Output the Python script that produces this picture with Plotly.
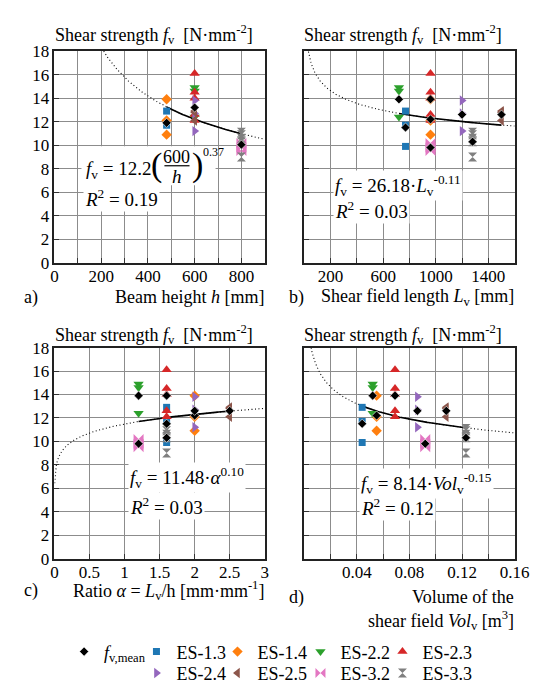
import numpy as np
import plotly.graph_objects as go

W, H = 539, 685
FONT = "Liberation Serif, Times New Roman, serif"

# ---------------- data ----------------
series = ["ES-1.3", "ES-1.4", "ES-2.2", "ES-2.3", "ES-2.4", "ES-2.5", "ES-3.2", "ES-3.3"]
colors = ["#1f77b4", "#ff7f0e", "#2ca02c", "#d62728", "#9467bd", "#8c564b", "#e377c2", "#7f7f7f"]
symbols = ["square", "diamond", "triangle-down", "triangle-up", "triangle-right",
           "triangle-left", "bowtie", "hourglass"]
msizes = [7, 8, 9, 9, 9, 9, 10, 9]

beam_height = [480, 480, 600, 600, 600, 600, 800, 800]            # h [mm]
shear_length = [770, 960, 720, 960, 1200, 1500, 960, 1280]        # Lv [mm]
ratio_alpha = [1.6, 2.0, 1.2, 1.6, 2.0, 2.5, 1.2, 1.6]             # alpha
shear_volume = [0.044, 0.055, 0.052, 0.069, 0.086, 0.108, 0.092, 0.123]  # Vol [m3]

es13 = [12.9, 11.7, 9.9]
es14 = [13.9, 12.1, 10.9]
es22 = [14.9, 14.6, 12.4]
es23 = [16.1, 14.5, 14.0, 12.6, 12.1]
es24 = [13.8, 12.7, 11.2]
es25 = [12.9, 12.8, 12.1]
es32 = [10.2, 9.8, 9.5]
es33 = [11.1, 10.9, 10.6, 10.3, 9.0]
strengths = [es13, es14, es22, es23, es24, es25, es32, es33]
# in panel a) only the first two ES-1.3 values are drawn
shown_in_a = [2, 3, 3, 5, 3, 3, 3, 5]

series_mean = [11.5, 12.2, 13.9, 13.9, 12.6, 12.6, 9.8, 10.3]
height_mean_h = [480, 600, 800]
height_mean_f = [11.9, 13.2, 10.05]

# fitted power laws
fit_a = (12.2, 600, 0.37)
fit_b = (26.18, -0.11)
fit_c = (11.48, 0.10)
fit_d = (8.14, -0.15)

# ---------------- layout helpers ----------------
def px(x):
    return x / W

def py(y):
    return 1 - y / H

dom_x_left = [px(44), px(262)]
dom_x_right = [px(303), px(521)]
dom_y_top = [py(253), py(35)]
dom_y_bot = [py(557), py(340)]

fig = go.Figure()

panels = [
    ("x", "y", beam_height),
    ("x2", "y2", shear_length),
    ("x3", "y3", ratio_alpha),
    ("x4", "y4", shear_volume),
]

# fit curves (dotted extension + solid within data range)
def add_fit(xa, ya, xd, yd, xs, ys):
    fig.add_trace(go.Scatter(x=xd, y=yd, xaxis=xa, yaxis=ya, mode="lines",
                             line=dict(color="black", width=1.1, dash="1px,2.5px"),
                             showlegend=False, hoverinfo="skip"))
    fig.add_trace(go.Scatter(x=xs, y=ys, xaxis=xa, yaxis=ya, mode="lines",
                             line=dict(color="black", width=1.6),
                             showlegend=False, hoverinfo="skip"))

xd = np.linspace(150, 900, 200); xs = np.linspace(480, 800, 100)
add_fit("x", "y", xd, fit_a[0] * (fit_a[1] / xd) ** fit_a[2],
        xs, fit_a[0] * (fit_a[1] / xs) ** fit_a[2])
xd = np.geomspace(10, 1600, 300); xs = np.linspace(720, 1500, 100)
add_fit("x2", "y2", xd, fit_b[0] * xd ** fit_b[1], xs, fit_b[0] * xs ** fit_b[1])
xd = np.geomspace(0.003, 3, 300); xs = np.linspace(1.2, 2.5, 100)
add_fit("x3", "y3", xd, fit_c[0] * xd ** fit_c[1], xs, fit_c[0] * xs ** fit_c[1])
xd = np.geomspace(0.003, 0.16, 300); xs = np.linspace(0.044, 0.123, 100)
add_fit("x4", "y4", xd, fit_d[0] * xd ** fit_d[1], xs, fit_d[0] * xs ** fit_d[1])

# legend slots: (text x, text y) in pixels; one legend per entry
mean_legend_pos = (92, 653)
series_legend_pos = [(167, 653), (251, 653), (337, 653), (422, 653),
                     (167, 675), (251, 675), (337, 675), (422, 675)]

# scatter points
for pi, (xa, ya, xvals) in enumerate(panels):
    for i, name in enumerate(series):
        vals = strengths[i][:shown_in_a[i]] if pi == 0 else strengths[i]
        fig.add_trace(go.Scatter(
            x=[xvals[i]] * len(vals), y=vals, xaxis=xa, yaxis=ya, mode="markers",
            name=name, legend=f"legend{i + 2}", showlegend=(pi == 0),
            marker=dict(symbol=symbols[i], color=colors[i], size=msizes[i],
                        line=dict(width=0)),
            cliponaxis=False))
    # means
    if pi == 0:
        mx, my = height_mean_h, height_mean_f
    else:
        mx, my = xvals, series_mean
    fig.add_trace(go.Scatter(
        x=mx, y=my, xaxis=xa, yaxis=ya, mode="markers",
        name="<i>f</i><sub>v,mean</sub>", legend="legend", showlegend=(pi == 0),
        marker=dict(symbol="diamond", color="black", size=7,
                    line=dict(width=0.6, color="white")),
        cliponaxis=False))

# ---------------- axes ----------------
axis_common = dict(showgrid=True, gridcolor="#8c8c8c", gridwidth=1,
                   showline=True, linecolor="#222", linewidth=1.5, mirror=True,
                   ticks="inside", ticklen=5, tickcolor="#333", tickwidth=1,
                   zeroline=False, tickfont=dict(family=FONT, size=17, color="black"))

yt = list(range(0, 19, 2))
fig.update_layout(
    xaxis=dict(domain=dom_x_left, anchor="y", range=[0, 900],
               tickvals=list(range(0, 901, 100)), ticklabelstandoff=-3,
               ticktext=["0", "", "200", "", "400", "", "600", "", "800", ""], **axis_common),
    yaxis=dict(domain=dom_y_top, anchor="x", range=[0, 18], tickvals=yt,
               ticktext=[str(v) for v in yt], **axis_common),
    xaxis2=dict(domain=dom_x_right, anchor="y2", range=[0, 1600],
                tickvals=list(range(0, 1601, 200)), ticklabelstandoff=-3,
                ticktext=["", "200", "", "600", "", "1000", "", "1400", ""], **axis_common),
    yaxis2=dict(domain=dom_y_top, anchor="x2", range=[0, 18], tickvals=yt,
                showticklabels=False, **axis_common),
    xaxis3=dict(domain=dom_x_left, anchor="y3", range=[0, 3], ticklabelstandoff=-3,
                tickvals=[0, 0.5, 1, 1.5, 2, 2.5, 3],
                ticktext=["0", "0.5", "1", "1.5", "2", "2.5", "3"], **axis_common),
    yaxis3=dict(domain=dom_y_bot, anchor="x3", range=[0, 18], tickvals=yt,
                ticktext=[str(v) for v in yt], **axis_common),
    xaxis4=dict(domain=dom_x_right, anchor="y4", range=[0, 0.16], ticklabelstandoff=-3,
                tickvals=[0, 0.02, 0.04, 0.06, 0.08, 0.10, 0.12, 0.14, 0.16],
                ticktext=["", "", "0.04", "", "0.08", "", "0.12", "", "0.16"], **axis_common),
    yaxis4=dict(domain=dom_y_bot, anchor="x4", range=[0, 18], tickvals=yt,
                showticklabels=False, **axis_common),
)

# ---------------- text ----------------
annotations = []

def ann(text, x, y, xanchor="left", size=18, bg=None, yanchor="middle"):
    d = dict(text=text, x=px(x), y=py(y), xref="paper", yref="paper",
             xanchor=xanchor, yanchor=yanchor, showarrow=False,
             font=dict(family=FONT, size=size, color="black"))
    if bg:
        d.update(bgcolor=bg, borderpad=1)
    annotations.append(d)

title = "Shear strength <i>f</i><sub>v</sub>\u00a0\u00a0[N\u00b7mm<sup>-2</sup>]"
ann(title, 43, 18)
ann(title, 301, 18)
ann(title, 43, 327)
ann(title, 301, 327)

ann("a)", 10, 288)
ann("Beam height <i>h</i> [mm]", 263, 288, xanchor="right")
ann("b)", 285, 288)
ann("Shear field length <i>L</i><sub>v</sub> [mm]", 522, 288, xanchor="right")
ann("c)", 10, 590)
ann("Ratio <i>\u03b1</i> = <i>L</i><sub>v</sub>/h [mm\u00b7mm<sup>-1</sup>]", 263, 590, xanchor="right")
ann("d)", 285, 597)
ann("Volume of the", 522, 597, xanchor="right")
ann("shear field <i>Vol</i><sub>v</sub> [m<sup>3</sup>]", 522, 621, xanchor="right")

# equation a (fraction built from parts) on white box
shapes = [dict(type="rect", xref="paper", yref="paper", x0=px(72), x1=px(211),
               y0=py(173), y1=py(133), fillcolor="white", line=dict(width=0), layer="above"),
          dict(type="line", xref="paper", yref="paper", x0=px(158), x1=px(184),
               y0=py(153), y1=py(153), line=dict(color="black", width=1.2), layer="above")]
ann("<i>f</i><sub>v</sub> = 12.2", 75, 157, size=19)
ann("(", 150, 152, xanchor="center", size=34)
ann("600", 171, 144, xanchor="center", size=18)
ann("<i>h</i>", 171, 164, xanchor="center", size=19)
ann(")", 192, 152, xanchor="center", size=34)
ann("0.37", 196, 139, size=12)
ann("<i>R</i><sup>2</sup> = 0.19", 74, 186, bg="white", size=19)

ann("<i>f</i><sub>v</sub> = 26.18\u00b7<i>L</i><sub>v</sub><sup>-0.11</sup>", 333, 173, bg="white", size=19)
ann("<i>R</i><sup>2</sup> = 0.03", 333, 199, bg="white", size=19)
ann("<i>f</i><sub>v</sub> = 11.48\u00b7<i>\u03b1</i><sup>0.10</sup>", 120, 474, bg="white", size=19)
ann("<i>R</i><sup>2</sup> = 0.03", 120, 503, bg="white", size=19)
ann("<i>f</i><sub>v</sub> = 8.14\u00b7<i>Vol</i><sub>v</sub><sup>-0.15</sup>", 360, 480, bg="white", size=19)
ann("<i>R</i><sup>2</sup> = 0.12", 360, 504, bg="white", size=19)

leg_common = dict(orientation="h", yanchor="middle", xanchor="left",
                  font=dict(family=FONT, size=18, color="black"),
                  bgcolor="rgba(0,0,0,0)", borderwidth=0, itemsizing="trace")

TEXT_OFFSET = 38  # distance from legend box left edge to its text
legends = {"legend": dict(x=px(mean_legend_pos[0] - TEXT_OFFSET), y=py(mean_legend_pos[1]),
                          **leg_common)}
for i, (tx, ty) in enumerate(series_legend_pos):
    legends[f"legend{i + 2}"] = dict(x=px(tx - TEXT_OFFSET), y=py(ty), **leg_common)

fig.update_layout(
    width=W, height=H, margin=dict(l=0, r=0, t=0, b=0),
    paper_bgcolor="white", plot_bgcolor="white",
    annotations=annotations, shapes=shapes,
    font=dict(family=FONT, size=17, color="black"),
    **legends,
)

fig.write_html("out.html")
